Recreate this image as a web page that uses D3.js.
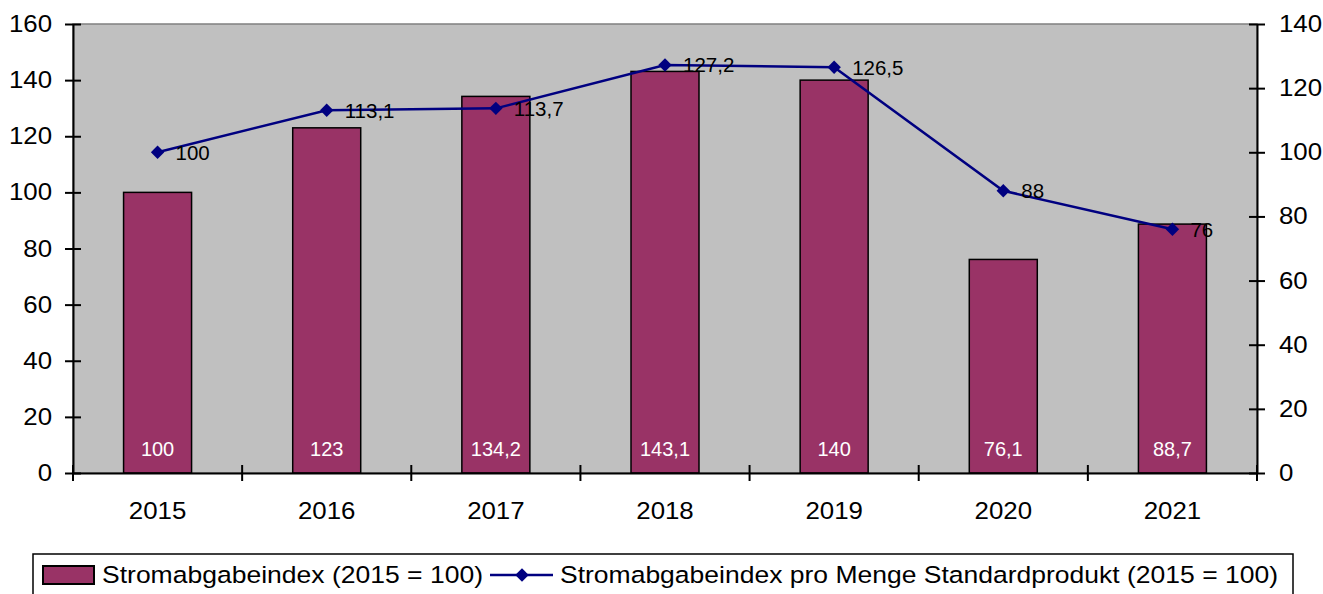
<!DOCTYPE html>
<html>
<head>
<meta charset="utf-8">
<script src="https://cdn.jsdelivr.net/npm/d3@7"></script>
<style>
body { margin:0; background:#fff; }
text { font-family: "Liberation Sans", Arial, sans-serif; }
</style>
</head>
<body>
<svg width="1323" height="594"></svg>
<script>
var years = ["2015","2016","2017","2018","2019","2020","2021"];
var barValues = [100, 123, 134.2, 143.1, 140, 76.1, 88.7];
var lineValues = [100, 113.1, 113.7, 127.2, 126.5, 88, 76];
var leftTicks = [0,20,40,60,80,100,120,140,160];
var rightTicks = [0,20,40,60,80,100,120,140];
var barName = "Stromabgabeindex (2015 = 100)";
var lineName = "Stromabgabeindex pro Menge Standardprodukt (2015 = 100)";

var x0 = 73, x1 = 1257, yTop = 24, yBot = 473;
var stretch = 1.1;

function fmt(v){ return String(v).replace(".", ","); }

var svg = d3.select("svg");

var x = d3.scaleBand().domain(years).range([x0, x1]);
var yL = d3.scaleLinear().domain([0,160]).range([yBot, yTop]);
var yR = d3.scaleLinear().domain([0,140]).range([yBot, yTop]);

// plot area
svg.append("rect")
	.attr("x", x0).attr("y", yTop)
	.attr("width", x1-x0).attr("height", yBot-yTop)
	.attr("fill", "#c0c0c0")
	.attr("stroke", "#808080")
	.attr("stroke-width", 1.5);

// bars
var barW = 68;
svg.selectAll(".bar").data(barValues)
	.enter().append("rect")
	.attr("class", "bar")
	.attr("x", function(d,i){ return x(years[i]) + x.bandwidth()/2 - barW/2 })
	.attr("y", function(d){ return yL(d) })
	.attr("width", barW)
	.attr("height", function(d){ return yBot - yL(d) })
	.attr("fill", "#993366")
	.attr("stroke", "black")
	.attr("stroke-width", 1.5);

svg.selectAll(".blabel").data(barValues)
	.enter().append("text")
	.attr("x", function(d,i){ return x(years[i]) + x.bandwidth()/2 })
	.attr("y", yBot - 17)
	.attr("text-anchor", "middle")
	.attr("fill", "white")
	.attr("font-size", 20)
	.text(function(d){ return fmt(d) });

// line
var line = d3.line()
	.x(function(d,i){ return x(years[i]) + x.bandwidth()/2 })
	.y(function(d){ return yR(d) });

svg.append("path")
	.datum(lineValues)
	.attr("d", line)
	.attr("fill", "none")
	.attr("stroke", "#000080")
	.attr("stroke-width", 2.5);

var diamond = d3.symbol().type(d3.symbolDiamond2).size(115);
svg.selectAll(".pt").data(lineValues)
	.enter().append("path")
	.attr("d", diamond)
	.attr("transform", function(d,i){ return "translate(" + (x(years[i]) + x.bandwidth()/2) + "," + yR(d) + ")" })
	.attr("fill", "#000080");

svg.selectAll(".llabel").data(lineValues)
	.enter().append("text")
	.attr("x", function(d,i){ return x(years[i]) + x.bandwidth()/2 + 18 })
	.attr("y", function(d){ return yR(d) })
	.attr("dy", "0.36em")
	.attr("fill", "black")
	.attr("font-size", 20.5)
	.text(function(d){ return fmt(d) });

// axes
var axL = d3.axisLeft(yL).tickValues(leftTicks).tickSize(0).tickPadding(19);
var gL = svg.append("g").attr("transform", "translate(" + x0 + ",0)").call(axL);
var axR = d3.axisRight(yR).tickValues(rightTicks).tickSize(0).tickPadding(20);
var gR = svg.append("g").attr("transform", "translate(" + x1 + ",0)").call(axR);
var axB = d3.axisBottom(x).tickSize(0).tickPadding(29);
var gB = svg.append("g").attr("transform", "translate(0," + yBot + ")").call(axB);

[gL, gR, gB].forEach(function(g){
	g.select(".domain").attr("stroke", "black").attr("stroke-width", 2);
	g.selectAll("text").attr("font-size", 23.5).attr("fill", "black")
		.attr("font-family", "'Liberation Sans', Arial, sans-serif")
		.attr("transform", "scale(" + stretch + ",1)");
});

// crossing tick marks
gL.selectAll(".tick").append("line").attr("x1", -8).attr("x2", 8).attr("stroke", "black").attr("stroke-width", 2);
gR.selectAll(".tick").append("line").attr("x1", -8).attr("x2", 8).attr("stroke", "black").attr("stroke-width", 2);
svg.selectAll(".xtick").data(d3.range(years.length + 1))
	.enter().append("line")
	.attr("x1", function(i){ return x0 + i * x.step() })
	.attr("x2", function(i){ return x0 + i * x.step() })
	.attr("y1", yBot - 8).attr("y2", yBot + 8)
	.attr("stroke", "black").attr("stroke-width", 2);

// legend
var leg = svg.append("g");
leg.append("rect")
	.attr("x", 33).attr("y", 554).attr("width", 1260).attr("height", 50)
	.attr("fill", "white").attr("stroke", "black").attr("stroke-width", 1.5);
leg.append("rect")
	.attr("x", 43).attr("y", 566).attr("width", 51).attr("height", 18)
	.attr("fill", "#993366").attr("stroke", "black").attr("stroke-width", 2);
leg.append("text")
	.attr("x", 102).attr("y", 583)
	.attr("font-size", 24.5)
	.attr("textLength", 381).attr("lengthAdjust", "spacingAndGlyphs")
	.text(barName);
leg.append("line")
	.attr("x1", 490).attr("x2", 553).attr("y1", 575).attr("y2", 575)
	.attr("stroke", "#000080").attr("stroke-width", 2.5);
leg.append("path")
	.attr("d", diamond)
	.attr("transform", "translate(522,575)")
	.attr("fill", "#000080");
leg.append("text")
	.attr("x", 560).attr("y", 583)
	.attr("font-size", 24.5)
	.attr("textLength", 718).attr("lengthAdjust", "spacingAndGlyphs")
	.text(lineName);
</script>
</body>
</html>
